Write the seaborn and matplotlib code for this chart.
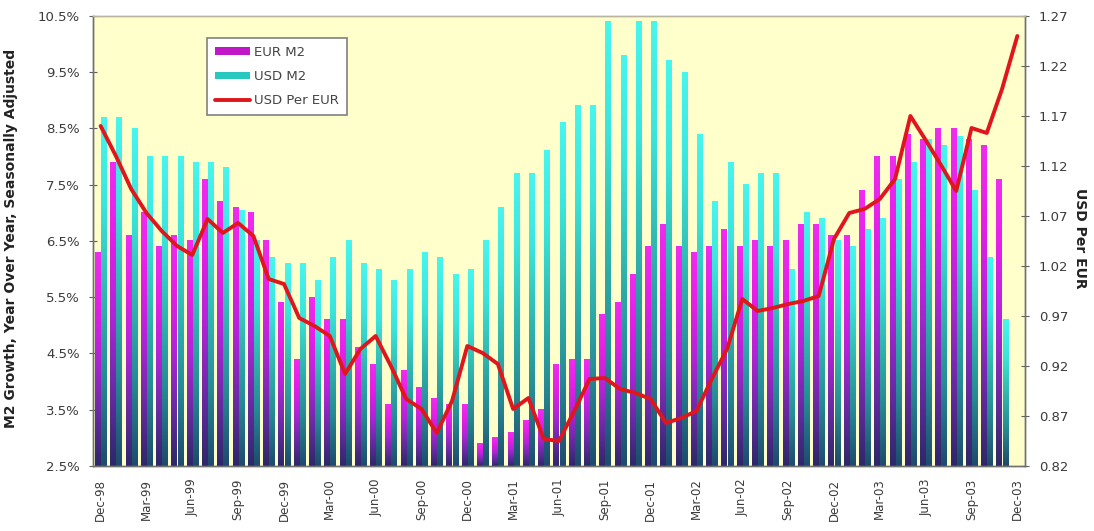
import numpy as np
import pandas as pd
import matplotlib
matplotlib.use("Agg")
import matplotlib.pyplot as plt
import seaborn as sns
from matplotlib.colors import LinearSegmentedColormap, to_rgba
from matplotlib.patches import Patch
from matplotlib.lines import Line2D

# ---------------- data ----------------
months = [d.strftime("%b-%y") for d in pd.date_range("1998-12-01", periods=61, freq="MS")]
tick_labels = months[::3]

eur_m2 = [6.3, 7.9, 6.6, 7.0, 6.4, 6.6, 6.5, 7.6, 7.2, 7.1,
          7.0, 6.5, 5.4, 4.4, 5.5, 5.1, 5.1, 4.6, 4.3, 3.6,
          4.2, 3.9, 3.7, 3.6, 3.6, 2.9, 3.0, 3.1, 3.3, 3.5,
          4.3, 4.4, 4.4, 5.2, 5.4, 5.9, 6.4, 6.8, 6.4, 6.3,
          6.4, 6.7, 6.4, 6.5, 6.4, 6.5, 6.8, 6.8, 6.6, 6.6,
          7.4, 8.0, 8.0, 8.4, 8.3, 8.5, 8.5, 8.3, 8.2, 7.6, np.nan]

usd_m2 = [8.7, 8.7, 8.5, 8.0, 8.0, 8.0, 7.9, 7.9, 7.8, 7.05,
          6.5, 6.2, 6.1, 6.1, 5.8, 6.2, 6.5, 6.1, 6.0, 5.8,
          6.0, 6.3, 6.2, 5.9, 6.0, 6.5, 7.1, 7.7, 7.7, 8.1,
          8.6, 8.9, 8.9, 10.4, 9.8, 10.4, 10.4, 9.7, 9.5, 8.4,
          7.2, 7.9, 7.5, 7.7, 7.7, 6.0, 7.0, 6.9, 6.5, 6.4,
          6.7, 6.9, 7.6, 7.9, 8.3, 8.2, 8.35, 7.4, 6.2, 5.1, np.nan]

usd_per_eur = [1.160, 1.130, 1.097, 1.073, 1.055, 1.040, 1.031, 1.067, 1.053, 1.063,
               1.050, 1.007, 1.002, 0.968, 0.960, 0.950, 0.912, 0.937, 0.950, 0.920,
               0.887, 0.877, 0.853, 0.885, 0.940, 0.933, 0.922, 0.877, 0.888, 0.847,
               0.845, 0.875, 0.907, 0.908, 0.897, 0.893, 0.887, 0.863, 0.868, 0.875,
               0.907, 0.937, 0.987, 0.975, 0.978, 0.982, 0.985, 0.990, 1.047, 1.073,
               1.077, 1.087, 1.107, 1.170, 1.146, 1.121, 1.095, 1.158, 1.153, 1.197, 1.250]

series_names = ["EUR M2", "USD M2", "USD Per EUR"]

# ---------------- styling ----------------
sns.set_theme(style="white")
plt.rcParams["font.family"] = ["DejaVu Sans"]

mag_base = "#C018C8"
cya_base = "#28C8C0"
mag_stops = ["#2c2868", "#6a2aa6", "#b024d8", "#e41ee8", "#f02cf0"]
cya_stops = ["#1e4a6c", "#268a94", "#30b8b0", "#3ae6dc", "#48f6ee"]
line_color = "#E0161C"
bg_color = "#FFFFCC"
text_color = "#3a3a3a"

fig = plt.figure(figsize=(10.94, 5.31), dpi=100)
ax = fig.add_axes([0.0850, 0.1224, 0.8519, 0.8475])
ax.set_facecolor(bg_color)

df = pd.DataFrame({
    "Month": months * 2,
    "Value": eur_m2 + usd_m2,
    "Series": [series_names[0]] * len(months) + [series_names[1]] * len(months),
})

sns.barplot(data=df, x="Month", y="Value", hue="Series", order=months,
            hue_order=series_names[:2],
            palette={series_names[0]: mag_base, series_names[1]: cya_base},
            width=0.8, gap=0.18, saturation=1, errorbar=None,
            legend=False, ax=ax, zorder=2)

ymin, ymax = 2.5, 10.5
cmaps = {
    to_rgba(mag_base): LinearSegmentedColormap.from_list("mag", mag_stops),
    to_rgba(cya_base): LinearSegmentedColormap.from_list("cya", cya_stops),
}
grad = np.linspace(0, 1, 256).reshape(-1, 1)
for p in list(ax.patches):
    h = p.get_height()
    if h is None or np.isnan(h):
        continue
    fc = tuple(p.get_facecolor())
    cmap = None
    for k, v in cmaps.items():
        if np.allclose(fc, k, atol=0.01):
            cmap = v
    if cmap is None:
        continue
    x0, w = p.get_x(), p.get_width()
    top = p.get_y() + h
    ax.imshow(grad, cmap=cmap, extent=[x0, x0 + w, ymin, top], origin="lower",
              aspect="auto", zorder=2, interpolation="bilinear")
    p.set_facecolor("none")
    p.set_edgecolor("none")

ax.set_ylim(ymin, ymax)
yt = np.arange(2.5, 10.51, 1.0)
ax.set_yticks(yt)
ax.set_yticklabels([f"{v:.1f}%" for v in yt], fontsize=9.5, color=text_color)
ax.set_ylabel("M2 Growth, Year Over Year, Seasonally Adjusted", fontsize=10,
              fontweight="bold", color="#222222")
ax.yaxis.set_label_coords(-0.0800, 0.505)
ax.set_xlabel("")

# ---------------- line on twin axis ----------------
ax2 = ax.twinx()
ax2.patch.set_visible(False)
sns.lineplot(x=months, y=usd_per_eur, ax=ax2, color=line_color, linewidth=2.8,
             sort=False, zorder=5)
ax2.set_ylim(0.82, 1.27)
rt = np.arange(0.82, 1.2701, 0.05)
ax2.set_yticks(rt)
ax2.set_yticklabels([f"{v:.2f}" for v in rt], fontsize=9.5, color=text_color)
ax2.set_ylabel("USD Per EUR", fontsize=10, fontweight="bold", color="#222222",
               rotation=270)
ax2.yaxis.set_label_coords(1.0665, 0.505)
ax2.grid(False)

# ---------------- x axis ----------------
ax.set_xlim(-0.5, len(months) - 0.5)
ax.set_xticks(range(0, len(months), 3))
ax.set_xticklabels(tick_labels, rotation=90, fontsize=8.5, color=text_color)
ax.tick_params(axis="x", direction="out", length=4, width=0.8, color="#707070", pad=5)
ax.tick_params(axis="y", direction="inout", length=6, width=0.8, color="#606060", pad=6.5, left=True)
ax2.tick_params(axis="y", direction="inout", length=6, width=0.8, color="#606060", pad=7, right=True)

for a in (ax, ax2):
    for side in ("left", "right", "bottom"):
        a.spines[side].set_color("#707070")
        a.spines[side].set_linewidth(1.0)
    a.spines["top"].set_color("#b8b4a0")
    a.spines["top"].set_linewidth(1.0)

# ---------------- legend ----------------
handles = [
    Patch(facecolor=mag_base, edgecolor="none", label=series_names[0]),
    Patch(facecolor=cya_base, edgecolor="none", label=series_names[1]),
    Line2D([0], [0], color=line_color, linewidth=2.8, label=series_names[2]),
]
leg = ax2.legend(handles=handles, loc="upper left", bbox_to_anchor=(0.122, 0.951),
                 borderaxespad=0, fontsize=9.5, frameon=True, fancybox=False,
                 framealpha=1, edgecolor="#808080", facecolor="white",
                 handlelength=2.7, handleheight=0.55, handletextpad=0.3,
                 labelspacing=0.85, borderpad=0.6)
leg.get_frame().set_linewidth(1.2)
for t in leg.get_texts():
    t.set_color("#444444")

fig.savefig("out.png", dpi=100, facecolor="white")
